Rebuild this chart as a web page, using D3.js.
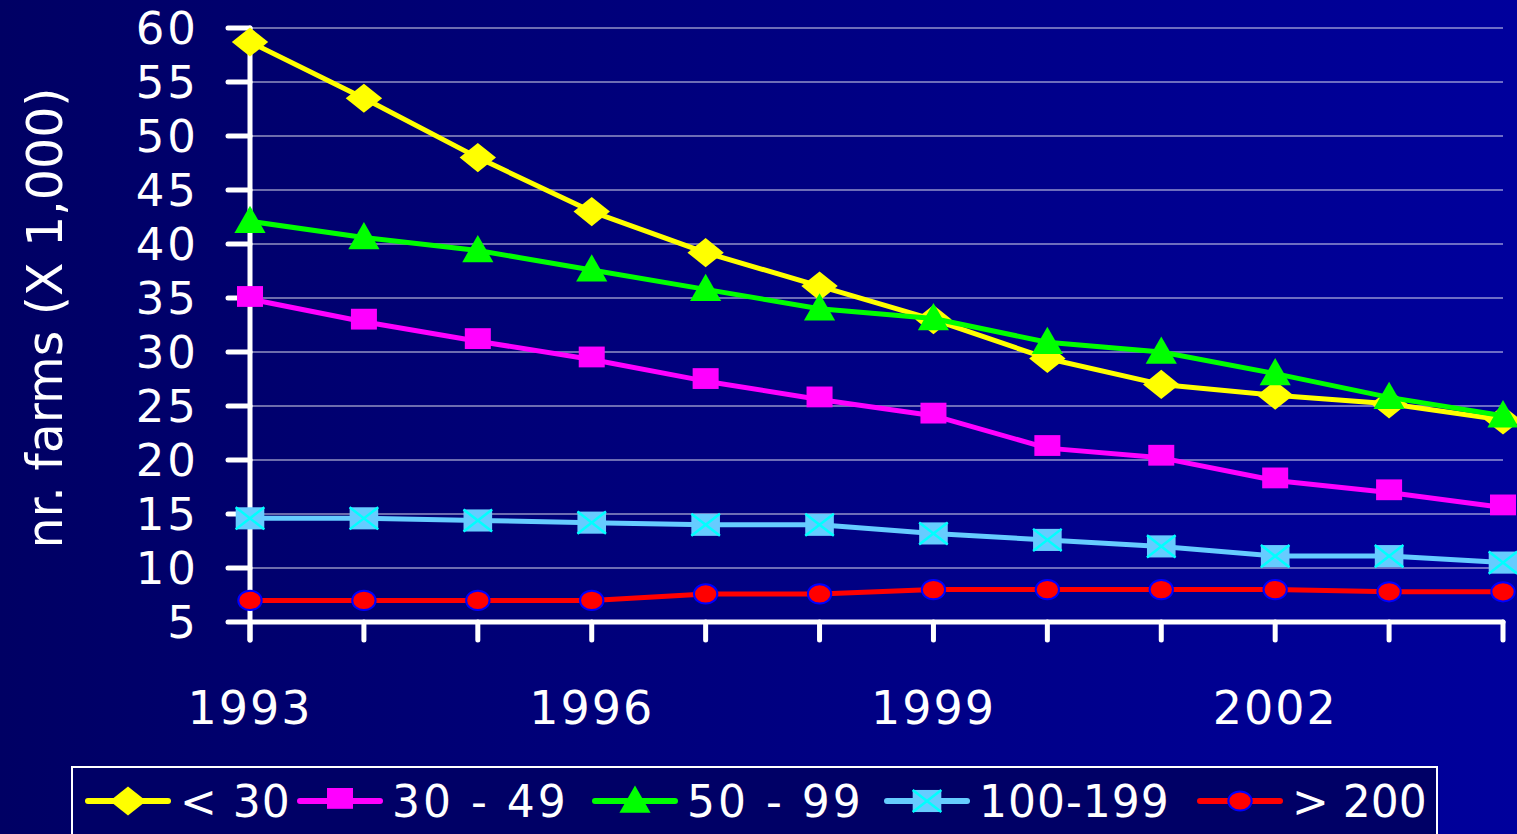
<!DOCTYPE html>
<html>
<head>
<meta charset="utf-8">
<script src="https://cdn.jsdelivr.net/npm/d3@7.9.0/dist/d3.min.js"></script>
<style>
  html, body { margin: 0; padding: 0; background: #000066; overflow: hidden; }
  svg { display: block; }
  text { font-family: "DejaVu Sans", sans-serif; fill: #fff; }
</style>
</head>
<body>
<div id="chart"></div>
<script>
// Data
const years = [1993, 1994, 1995, 1996, 1997, 1998, 1999, 2000, 2001, 2002, 2003, 2004];
const yearLabels = [1993, 1996, 1999, 2002];
const yTicks = [5, 10, 15, 20, 25, 30, 35, 40, 45, 50, 55, 60];

const under30 = [58.7, 53.5, 48.0, 43.0, 39.2, 36.1, 33.0, 29.4, 27.0, 26.0, 25.2, 23.7];
const s30to49 = [34.9, 32.8, 31.0, 29.3, 27.3, 25.6, 24.1, 21.1, 20.2, 18.1, 17.0, 15.6];
const s50to99 = [42.1, 40.6, 39.4, 37.6, 35.8, 34.0, 33.1, 30.9, 30.0, 28.0, 25.8, 24.1];
const s100to199 = [14.6, 14.6, 14.4, 14.2, 14.0, 14.0, 13.2, 12.6, 12.0, 11.1, 11.1, 10.5];
const over200 = [7.0, 7.0, 7.0, 7.0, 7.6, 7.6, 8.0, 8.0, 8.0, 8.0, 7.8, 7.8];

const seriesNames = ['< 30', '30 - 49', '50 - 99', '100-199', '> 200'];

const series = [
  { name: seriesNames[0], values: under30, color: '#ffff00', marker: 'diamond' },
  { name: seriesNames[1], values: s30to49, color: '#ff00ff', marker: 'square' },
  { name: seriesNames[2], values: s50to99, color: '#00ff00', marker: 'triangle' },
  { name: seriesNames[3], values: s100to199, color: '#66ccff', marker: 'xsquare' },
  { name: seriesNames[4], values: over200, color: '#ff0000', marker: 'circle' },
];

const width = 1517;
const height = 834;

const svg = d3.select('#chart')
  .append('svg')
  .attr('width', width)
  .attr('height', height);

// background gradient
const defs = svg.append('defs');
const grad = defs.append('linearGradient')
  .attr('id', 'bg')
  .attr('x1', '0%').attr('x2', '100%')
  .attr('y1', '0%').attr('y2', '0%');
grad.append('stop').attr('offset', '0%').attr('stop-color', '#000064');
grad.append('stop').attr('offset', '100%').attr('stop-color', '#00009c');

svg.append('rect')
  .attr('width', width)
  .attr('height', height)
  .attr('fill', 'url(#bg)');

const x = d3.scaleLinear().domain([1993, 2004]).range([250, 1503]);
const y = d3.scaleLinear().domain([5, 60]).range([622, 28]);

// gridlines
svg.append('g')
  .selectAll('line')
  .data(yTicks.filter(d => d > 5))
  .join('line')
  .attr('x1', x(1993))
  .attr('x2', x(2004))
  .attr('y1', d => y(d))
  .attr('y2', d => y(d))
  .attr('stroke', '#ffffff')
  .attr('stroke-opacity', 0.85)
  .attr('stroke-width', 1.2);

// y axis
const yAxis = svg.append('g');
yAxis.append('line')
  .attr('x1', x(1993)).attr('x2', x(1993))
  .attr('y1', y(60)).attr('y2', y(5) + 18)
  .attr('stroke', '#fff').attr('stroke-width', 5).attr('stroke-linecap', 'round');
yAxis.selectAll('line.tick')
  .data(yTicks)
  .join('line')
  .attr('class', 'tick')
  .attr('x1', x(1993) - 22).attr('x2', x(1993))
  .attr('y1', d => y(d)).attr('y2', d => y(d))
  .attr('stroke', '#fff').attr('stroke-width', 5).attr('stroke-linecap', 'round');
yAxis.selectAll('text')
  .data(yTicks)
  .join('text')
  .attr('x', 199)
  .attr('y', d => y(d))
  .attr('dy', '0.36em')
  .attr('text-anchor', 'end')
  .attr('font-size', 45)
  .attr('letter-spacing', 3)
  .text(d => d);

// x axis
const xAxis = svg.append('g');
xAxis.append('line')
  .attr('x1', x(1993)).attr('x2', x(2004))
  .attr('y1', y(5)).attr('y2', y(5))
  .attr('stroke', '#fff').attr('stroke-width', 5).attr('stroke-linecap', 'round');
xAxis.selectAll('line.tick')
  .data(years)
  .join('line')
  .attr('class', 'tick')
  .attr('x1', d => x(d)).attr('x2', d => x(d))
  .attr('y1', y(5)).attr('y2', y(5) + 18)
  .attr('stroke', '#fff').attr('stroke-width', 5).attr('stroke-linecap', 'round');
xAxis.selectAll('text')
  .data(yearLabels)
  .join('text')
  .attr('x', d => x(d))
  .attr('y', 724)
  .attr('text-anchor', 'middle')
  .attr('font-size', 46)
  .attr('letter-spacing', 2)
  .text(d => d);

// y title
svg.append('text')
  .attr('transform', 'translate(62, 318) rotate(-90)')
  .attr('text-anchor', 'middle')
  .attr('font-size', 49)
  .text('nr. farms (X 1,000)');

// marker drawing
function drawMarker(g, type, color, size) {
  if (type === 'diamond') {
    g.append('path')
      .attr('d', d3.symbol(d3.symbolDiamond2, size * size * 0.8)())
      .attr('transform', 'scale(1.25,1)')
      .attr('fill', color);
  } else if (type === 'square') {
    g.append('rect')
      .attr('x', -size / 2).attr('y', -size / 2)
      .attr('width', size).attr('height', size * 0.8)
      .attr('fill', color);
  } else if (type === 'triangle') {
    g.append('path')
      .attr('d', `M0,${-size * 0.6}L${size * 0.6},${size * 0.45}L${-size * 0.6},${size * 0.45}Z`)
      .attr('fill', color);
  } else if (type === 'xsquare') {
    const w = size * 1.1, h = size * 0.85;
    g.append('rect')
      .attr('x', -w / 2).attr('y', -h / 2)
      .attr('width', w).attr('height', h)
      .attr('fill', color);
    g.append('path')
      .attr('d', `M${-w / 2},${-h / 2}L${w / 2},${h / 2}M${w / 2},${-h / 2}L${-w / 2},${h / 2}`)
      .attr('stroke', '#00ffff').attr('stroke-width', 2.5);
  } else if (type === 'circle') {
    g.append('ellipse')
      .attr('rx', size * 0.45).attr('ry', size * 0.37)
      .attr('fill', color)
      .attr('stroke', '#0000ff').attr('stroke-width', 2);
  }
}

const line = d3.line()
  .x((d, i) => x(years[i]))
  .y(d => y(d));

// draw from bottom series upward so yellow/green sit on top like the original
const drawOrder = [4, 3, 1, 0, 2];
drawOrder.forEach(si => {
  const s = series[si];
  svg.append('path')
    .datum(s.values)
    .attr('d', line)
    .attr('fill', 'none')
    .attr('stroke', s.color)
    .attr('stroke-width', 5)
    .attr('stroke-linejoin', 'round');
  svg.append('g')
    .selectAll('g')
    .data(s.values)
    .join('g')
    .attr('transform', (d, i) => `translate(${x(years[i])},${y(d)})`)
    .each(function () { drawMarker(d3.select(this), s.marker, s.color, 26); });
});

// legend
const legend = svg.append('g');
legend.append('rect')
  .attr('x', 72).attr('y', 767)
  .attr('width', 1365).attr('height', 80)
  .attr('fill', '#000066')
  .attr('stroke', '#ffffff').attr('stroke-width', 2);

const legendX = [88, 300, 595, 887, 1200];
const legendSpacing = [1, 3, 3, 1, 0];
series.forEach((s, i) => {
  const g = legend.append('g').attr('transform', `translate(${legendX[i]},801)`);
  g.append('line')
    .attr('x1', 0).attr('x2', 80)
    .attr('stroke', s.color).attr('stroke-width', 6).attr('stroke-linecap', 'round');
  const m = g.append('g').attr('transform', 'translate(40,0)');
  drawMarker(m, s.marker, s.color, 26);
  g.append('text')
    .attr('x', 92)
    .attr('y', 0)
    .attr('dy', '0.36em')
    .attr('font-size', 44)
    .attr('letter-spacing', legendSpacing[i])
    .text(s.name);
});
</script>
</body>
</html>
